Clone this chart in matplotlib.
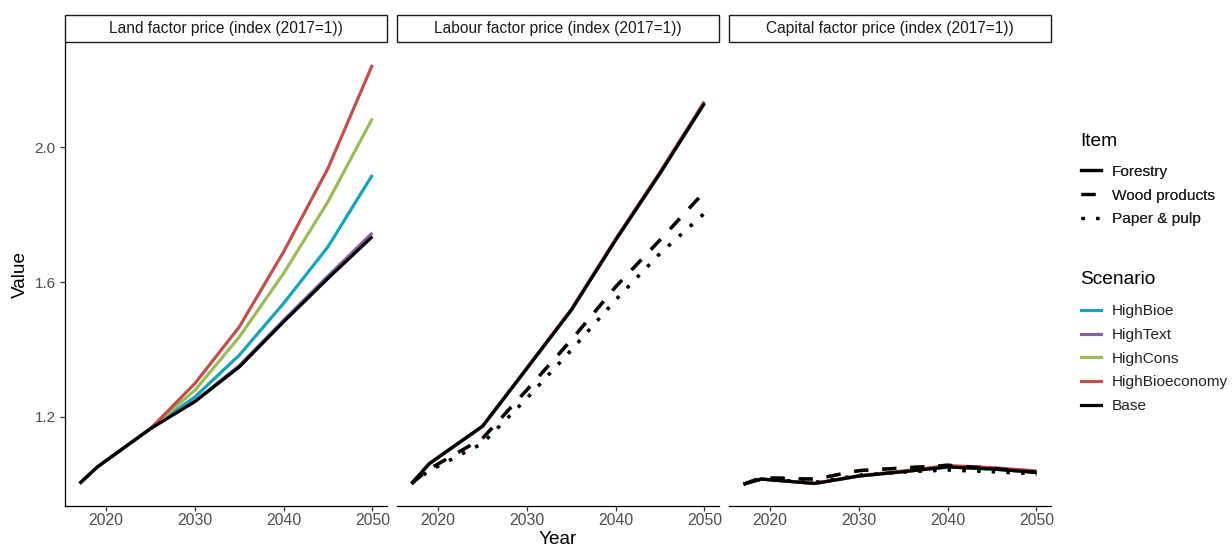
import matplotlib
matplotlib.use("Agg")
import matplotlib.pyplot as plt
from matplotlib.lines import Line2D
from matplotlib.patches import Rectangle

plt.rcParams["font.family"] = ["Liberation Sans", "DejaVu Sans"]

# ---- data -------------------------------------------------------------
years = [2017, 2019, 2025, 2030, 2035, 2040, 2045, 2050]

panel_titles = [
    "Land factor price (index (2017=1))",
    "Labour factor price (index (2017=1))",
    "Capital factor price (index (2017=1))",
]

scenarios = ["HighBioe", "HighText", "HighCons", "HighBioeconomy", "Base"]
scenario_colors = ["#17A2BB", "#8064A2", "#9BBB59", "#C0504D", "#000000"]

items = ["Forestry", "Wood products", "Paper & pulp"]

# Land factor price (forestry only)
land_highbioe = [1.002, 1.051, 1.165, 1.259, 1.383, 1.537, 1.705, 1.918]
land_hightext = [1.002, 1.051, 1.165, 1.247, 1.352, 1.487, 1.618, 1.746]
land_highcons = [1.002, 1.051, 1.165, 1.279, 1.437, 1.626, 1.839, 2.086]
land_highbioeconomy = [1.002, 1.051, 1.165, 1.299, 1.467, 1.690, 1.938, 2.245]
land_base = [1.002, 1.051, 1.165, 1.245, 1.348, 1.482, 1.611, 1.735]

# Labour factor price
labour_forestry = [1.002, 1.061, 1.172, 1.344, 1.517, 1.725, 1.923, 2.131]
labour_forestry_highbioeconomy = [1.002, 1.061, 1.172, 1.345, 1.519, 1.728, 1.927, 2.136]
labour_wood = [1.002, 1.045, 1.136, 1.280, 1.428, 1.586, 1.725, 1.868]
labour_paper = [1.002, 1.040, 1.121, 1.255, 1.398, 1.547, 1.685, 1.804]

# Capital factor price
capital_forestry = [1.000, 1.015, 1.002, 1.024, 1.037, 1.051, 1.045, 1.035]
capital_forestry_highbioeconomy = [1.000, 1.015, 1.002, 1.025, 1.039, 1.055, 1.049, 1.039]
capital_wood = [1.000, 1.019, 1.015, 1.040, 1.048, 1.056, 1.047, 1.035]
capital_paper = [1.000, 1.015, 1.005, 1.026, 1.036, 1.042, 1.037, 1.030]

x_ticks = [2020, 2030, 2040, 2050]
y_ticks = [1.2, 1.6, 2.0]

# ---- styling -----------------------------------------------------------
LW = 2.3
item_styles = {
    "Forestry": "-",
    "Wood products": (0, (4.4, 4.4)),
    "Paper & pulp": (0, (1.0, 3.6)),
}

land_series = {
    "HighBioe": {"Forestry": land_highbioe},
    "HighText": {"Forestry": land_hightext},
    "HighCons": {"Forestry": land_highcons},
    "HighBioeconomy": {"Forestry": land_highbioeconomy},
    "Base": {"Forestry": land_base},
}


def shared(forestry, wood, paper):
    return {"Forestry": forestry, "Wood products": wood, "Paper & pulp": paper}


labour_series = {s: shared(labour_forestry, labour_wood, labour_paper) for s in scenarios}
labour_series["HighBioeconomy"] = shared(labour_forestry_highbioeconomy, labour_wood, labour_paper)
capital_series = {s: shared(capital_forestry, capital_wood, capital_paper) for s in scenarios}
capital_series["HighBioeconomy"] = shared(capital_forestry_highbioeconomy, capital_wood, capital_paper)

panels = [land_series, labour_series, capital_series]

# ---- figure ------------------------------------------------------------
W, H = 1232, 548
fig = plt.figure(figsize=(W / 100, H / 100), dpi=100)

panel_left_px = [65, 397, 729]
panel_w_px = 322
panel_top_px, panel_bottom_px = 43, 506

axes = []
for i, left in enumerate(panel_left_px):
    ax = fig.add_axes([left / W, 1 - panel_bottom_px / H,
                       panel_w_px / W, (panel_bottom_px - panel_top_px) / H])
    axes.append(ax)

    series = panels[i]
    for s, color in zip(scenarios, scenario_colors):
        for item in items:
            if item not in series[s]:
                continue
            ax.plot(years, series[s][item], color=color, lw=LW,
                    linestyle=item_styles[item], dash_capstyle="butt",
                    solid_capstyle="butt", solid_joinstyle="round")

    ax.set_xlim(2015.35, 2051.65)
    ax.set_ylim(0.935, 2.31)
    ax.set_xticks(x_ticks)
    ax.set_yticks(y_ticks)
    ax.set_yticklabels([f"{v:.1f}" for v in y_ticks])
    ax.set_facecolor("white")

    for side in ["top", "right"]:
        ax.spines[side].set_visible(False)
    ax.spines["bottom"].set_linewidth(0.9)
    ax.spines["left"].set_linewidth(0.9)
    ax.tick_params(axis="x", length=3.6, width=0.9, color="#333333",
                   labelcolor="#4D4D4D", labelsize=11.3, pad=1.5)
    ax.tick_params(axis="y", length=3.6, width=0.9, color="#333333",
                   labelcolor="#4D4D4D", labelsize=11.0, pad=3)
    if i > 0:
        ax.spines["left"].set_visible(False)
        ax.tick_params(axis="y", left=False, labelleft=False)

    # facet strip
    h_axes = panel_bottom_px - panel_top_px
    strip_bottom = 1 + 1 / h_axes
    strip_h = 27 / h_axes
    ax.add_patch(Rectangle((0, strip_bottom), 1, strip_h, transform=ax.transAxes,
                           facecolor="white", edgecolor="#1A1A1A", lw=1.0,
                           clip_on=False))
    ax.text(0.5, strip_bottom + strip_h / 2, panel_titles[i], transform=ax.transAxes,
            ha="center", va="center", fontsize=11.2, color="#1A1A1A")

fig.text(557.5 / W, 1 - 540 / H, "Year", ha="center", va="center",
         fontsize=13.7, color="black")
fig.text(20 / W, 1 - 274.5 / H, "Value", ha="center", va="center",
         rotation=90, fontsize=13.7, color="black")

# ---- legends -----------------------------------------------------------
leg_kw = dict(loc="upper left", frameon=False, fontsize=11.1,
              handlelength=1.3, handletextpad=0.72,
              labelspacing=0.63, borderpad=0, borderaxespad=0,
              labelcolor="#222222")

fig.text(1080 / W, 1 - 141.7 / H, "Item", ha="left", va="center",
         fontsize=13.8, color="black")
item_handles = [Line2D([], [], color="black", lw=LW, linestyle=item_styles[it],
                       dash_capstyle="butt") for it in items]
leg1 = fig.legend(item_handles, items,
                  bbox_to_anchor=(1081 / W, 1 - 164.8 / H), **leg_kw)

fig.text(1080 / W, 1 - 280 / H, "Scenario", ha="left", va="center",
         fontsize=13.8, color="black")
scen_handles = [Line2D([], [], color=c, lw=LW) for c in scenario_colors]
leg2 = fig.legend(scen_handles, scenarios,
                  bbox_to_anchor=(1081 / W, 1 - 304.3 / H), **leg_kw)
fig.add_artist(leg1)

fig.savefig("out.png", dpi=100, facecolor="white")
